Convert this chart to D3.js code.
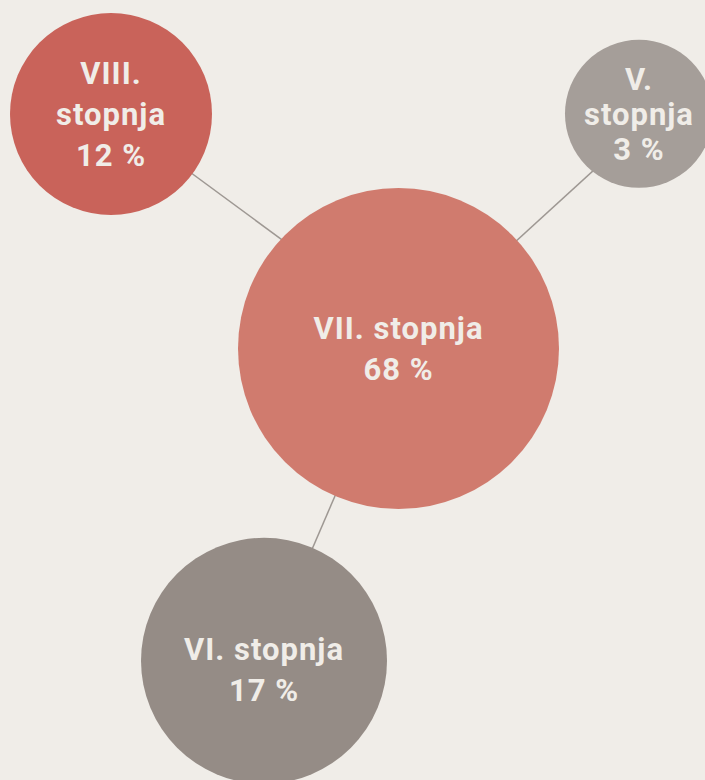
<!DOCTYPE html>
<html>
<head>
<meta charset="utf-8">
<script src="https://cdn.jsdelivr.net/npm/d3@7/dist/d3.min.js"></script>
<style>
  html, body { margin: 0; padding: 0; background: #f0ede8; }
  svg { display: block; }
</style>
</head>
<body>
<svg id="chart" width="705" height="780"></svg>
<script>
// ---- data ----
const categories = ["VIII. stopnja", "VII. stopnja", "VI. stopnja", "V. stopnja"];
const values = [12, 68, 17, 3];
const unit = " %";

// ---- layout config (not data) ----
const W = 705, H = 780;
const hubCenter = [398.5, 348.5];
// satellite direction (degrees) and centre distance from the hub
const satAngles = { "VIII. stopnja": -140.8, "V. stopnja": -44.3, "VI. stopnja": 113.3 };
const satDist   = { "VIII. stopnja": 371,    "V. stopnja": 336,   "VI. stopnja": 340 };
// small anchor shifts of the connector ends (hub end / satellite end)
const hubAnchorDy = { "VIII. stopnja": -23, "V. stopnja": 0, "VI. stopnja": 0 };
const satAnchorDy = { "VIII. stopnja": 0, "V. stopnja": 15, "VI. stopnja": 0 };
const labelDy = { "VI. stopnja": 9 };

const nodes = categories.map((c, i) => ({ name: c, value: values[i] }));

const rScale = d3.scaleLinear()
  .domain([3, 12, 17, 68])
  .range([74, 101, 123, 160.5]);

const color = d3.scaleOrdinal()
  .domain(categories)
  .range(["#c9635a", "#d07b6e", "#958c86", "#a59e99"]);

const lineGap = d3.scaleLinear().domain([74, 101]).range([35, 41]).clamp(true);

const hub = nodes.reduce((a, b) => (b.value > a.value ? b : a));
nodes.forEach(n => {
  if (n === hub) { n.x = hubCenter[0]; n.y = hubCenter[1]; }
  else {
    const a = satAngles[n.name] * Math.PI / 180;
    n.x = hubCenter[0] + satDist[n.name] * Math.cos(a);
    n.y = hubCenter[1] + satDist[n.name] * Math.sin(a);
  }
  n.r = rScale(n.value);
});
const links = nodes.filter(n => n !== hub).map(n => ({ source: hub, target: n }));

const svg = d3.select("#chart");
svg.append("rect").attr("width", W).attr("height", H).attr("fill", "#f0ede8");

svg.append("g").selectAll("line").data(links).join("line")
  .attr("x1", d => d.source.x).attr("y1", d => d.source.y + hubAnchorDy[d.target.name])
  .attr("x2", d => d.target.x).attr("y2", d => d.target.y + satAnchorDy[d.target.name])
  .attr("stroke", "#9e9893").attr("stroke-width", 1.5);

const g = svg.append("g").selectAll("g").data(nodes).join("g");
g.append("circle")
  .attr("cx", d => d.x).attr("cy", d => d.y).attr("r", d => d.r)
  .attr("fill", d => color(d.name));

const fs = 31, cap = 0.711 * fs;
g.each(function(d) {
  const sel = d3.select(this);
  const t = sel.append("text")
    .attr("text-anchor", "middle")
    .attr("fill", "#f0ede8")
    .style("font-family", "Roboto, 'Noto Sans', sans-serif")
    .style("font-weight", 700)
    .style("font-size", fs + "px")
    .style("letter-spacing", "1px");
  const probe = t.append("tspan").text(d.name);
  const wide = probe.node().getComputedTextLength() > d.r * 1.5;
  probe.remove();
  const lines = wide ? d.name.split(" ") : [d.name];
  lines.push(d.value + unit);
  const L = lineGap(d.r);
  const first = d.y + (labelDy[d.name] || 0) - ((lines.length - 1) * L + cap) / 2 + cap;
  t.selectAll("tspan").data(lines).join("tspan")
    .attr("x", d.x)
    .attr("y", (s, i) => first + i * L)
    .text(s => s);
});
</script>
</body>
</html>
